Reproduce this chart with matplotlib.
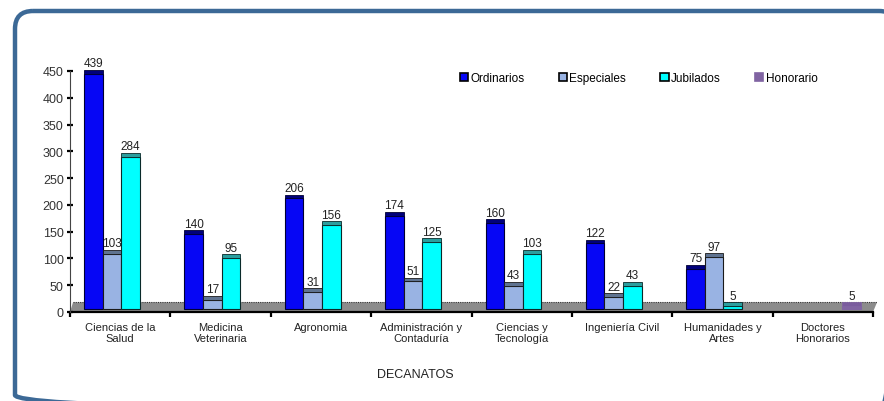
import matplotlib.pyplot as plt
from matplotlib.patches import Patch, Polygon, FancyBboxPatch
import numpy as np

plt.rcParams['font.family'] = ['Liberation Sans', 'DejaVu Sans']

# Datos
decanatos = ["Ciencias de la\nSalud", "Medicina\nVeterinaria", "Agronomia",
             "Administración y\nContaduría", "Ciencias y\nTecnología",
             "Ingeniería Civil", "Humanidades y\nArtes", "Doctores\nHonorarios"]
series = ["Ordinarios", "Especiales", "Jubilados", "Honorario"]
ordinarios = [439, 140, 206, 174, 160, 122, 75, 0]
especiales = [103, 17, 31, 51, 43, 22, 97, 0]
jubilados = [284, 95, 156, 125, 103, 43, 5, 0]
honorario = [0, 0, 0, 0, 0, 0, 0, 5]
valores = [ordinarios, especiales, jubilados, honorario]

colores = ["#0606f5", "#99b3e3", "#00ffff", "#8064a2"]
tapas = ["#00007a", "#5f7390", "#2b9e9e", "#7a5c9e"]
bordes = ["#000033", "#1a1a1a", "#0a2a2a", "#8064a2"]

W, H = 884, 402
fig = plt.figure(figsize=(W / 100, H / 100), dpi=100)

# Marco azul redondeado (se sale por la derecha y por abajo)
bg = fig.add_axes([0, 0, 1, 1])
bg.set_xlim(0, W)
bg.set_ylim(H, 0)
bg.axis("off")
marco = FancyBboxPatch((15, 12), 882, 402, boxstyle="round,pad=0,rounding_size=18",
                       fc="none", ec="#3c6996", lw=3.2, clip_on=True)
bg.add_patch(marco)

# Area del grafico (pixeles: x 70-873, y 72-313)
ax = fig.add_axes([70 / W, (H - 313) / H, 803 / W, 241 / H])
ax.set_xlim(0, 8)
ax.set_ylim(0, 450)
ax.patch.set_alpha(0)

base = 6      # profundidad del piso 3D
cap = 7       # grosor de la tapa
ancho = 0.185
inicio = 0.14

# Piso gris
piso = Polygon([(0, 0), (8, 0), (8.04, 18), (0.03, 18)], closed=True,
               fc="#8c8c8c", ec="none", zorder=1, clip_on=False)
ax.add_patch(piso)
ax.plot([0.03, 8.04], [18, 18], color="#333333", lw=0.8, ls=(0, (1, 1)),
        zorder=1.5, clip_on=False)

x0 = np.arange(len(decanatos))
for j, vals in enumerate(valores):
    xs = x0 + inicio + j * ancho
    for x, v in zip(xs, vals):
        if v == 0:
            continue
        ax.bar(x, v, width=ancho, bottom=base, align="edge", color=colores[j],
               edgecolor=bordes[j], lw=0.8, zorder=3, clip_on=False)
        ax.bar(x, cap, width=ancho, bottom=base + v, align="edge", color=tapas[j],
               edgecolor=bordes[j], lw=0.6, zorder=3, clip_on=False)
        ax.text(x + ancho / 2, base + v + cap + 1, str(v), ha="center", va="bottom",
                fontsize=8.5, color="#222222", zorder=4)

# Ejes
for s in ["top", "right"]:
    ax.spines[s].set_visible(False)
ax.spines["bottom"].set_linewidth(1.6)
ax.spines["bottom"].set_zorder(2)
ax.spines["left"].set_linewidth(0.8)
ax.spines["left"].set_linestyle((0, (1, 1)))
ax.spines["left"].set_color("#444444")

ax.set_yticks(np.arange(0, 451, 50))
ax.tick_params(axis="y", direction="inout", length=5, width=1.6, labelsize=9,
               labelcolor="#333333", pad=2)
ax.set_xticks(np.arange(0, 9))
ax.set_xticklabels([])
ax.tick_params(axis="x", which="major", direction="out", length=3.5, width=1.6)
ax.set_xticks(x0 + 0.5, minor=True)
ax.set_xticklabels(decanatos, minor=True, fontsize=8, color="#222222", linespacing=1.15)
ax.tick_params(axis="x", which="minor", length=0, pad=7)

fig.text(415 / W, 1 - 375 / H, "DECANATOS", ha="center", va="center",
         fontsize=9, color="#222222")

# Leyenda
handles = [Patch(fc=colores[j], ec="black" if j < 3 else colores[j], lw=1.2)
           for j in range(4)]
fig.legend(handles, series, loc="center left", bbox_to_anchor=(455 / W, 1 - 79 / H),
           ncol=4, frameon=False, fontsize=8.5, handlelength=0.7, handleheight=0.7,
           handletextpad=0.2, columnspacing=2.9, borderaxespad=0)

fig.savefig("out.png", dpi=100)
